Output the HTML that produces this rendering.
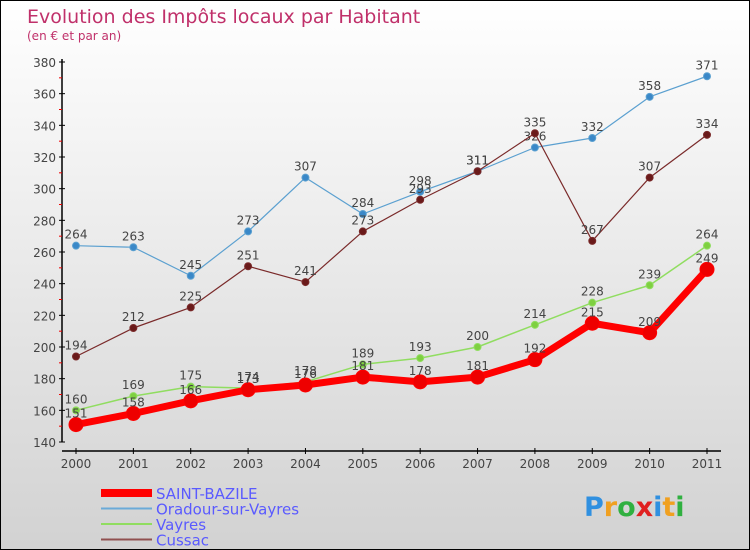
<!DOCTYPE html>
<html><head><meta charset="utf-8"><style>
body{margin:0}
#c{width:750px;height:550px;position:relative;box-sizing:border-box;border:1px solid #000;background:linear-gradient(#ffffff,#d2d2d2);font-family:"DejaVu Sans","Liberation Sans",sans-serif;overflow:hidden}
</style></head><body>
<div id="c">
<svg id="s" width="750" height="550" style="position:absolute;left:0;top:0"></svg>
</div>
<script>
const years=["2000","2001","2002","2003","2004","2005","2006","2007","2008","2009","2010","2011"];
const yTicks=[140,160,180,200,220,240,260,280,300,320,340,360,380];
const saint=[151,158,166,173,176,181,178,181,192,215,209,249];
const oradour=[264,263,245,273,307,284,298,311,326,332,358,371];
const vayres=[160,169,175,174,178,189,193,200,214,228,239,264];
const cussac=[194,212,225,251,241,273,293,311,335,267,307,334];
const svg=document.getElementById('s');const NS='http://www.w3.org/2000/svg';
function X(i){return 75+i*(706-75)/11}
function Y(v){return 441-(v-140)*(380/240)}
function mk(t,a,p){const e=document.createElementNS(NS,t);for(const k in a)e.setAttribute(k,a[k]);(p||svg).appendChild(e);return e}
function tx(x,y,s,o){const e=mk('text',Object.assign({x:x,y:y},o));e.textContent=s;return e}
let t=tx(26,22,'Evolution des Impôts locaux par Habitant',{fill:'#c0306a','font-size':19});
t=tx(26,39,'(en € et par an)',{fill:'#c0306a','font-size':12});
let ax=mk('line',{x1:61,y1:58,x2:61,y2:441,stroke:'#000','stroke-width':1.5});
yTicks.forEach((v,i)=>{mk('line',{x1:58,x2:64,y1:Y(v),y2:Y(v),stroke:'#000'});if(i<yTicks.length-1)mk('line',{x1:58,x2:61,y1:Y(v+10),y2:Y(v+10),stroke:'#e00'});
const l=tx(55,Y(v)+5,v,{'text-anchor':'end','font-size':12,fill:'#444'});});
ax=mk('line',{x1:61,y1:450,x2:720,y2:450,stroke:'#000','stroke-width':1.5});
years.forEach((y,i)=>{mk('line',{x1:X(i),x2:X(i),y1:447,y2:453,stroke:'#000'});const l=tx(X(i),467,y,{'text-anchor':'middle','font-size':12,fill:'#444'});});
function series(name,d,col,w,r,dot){const g=mk('g',{});
const pl=mk('polyline',{points:d.map((v,i)=>X(i)+','+Y(v)).join(' '),fill:'none',stroke:col,'stroke-width':w,'stroke-linejoin':'round'},g);
d.forEach((v,i)=>{const c=mk('circle',{cx:X(i),cy:Y(v),r:r,fill:dot,stroke:col,'stroke-width':1},g);
const l=tx(X(i),Y(v)-7,v,{'text-anchor':'middle','font-size':12,fill:'#444'},g);});}
series('oradour',oradour,'#5ba0d0',1.2,3.5,'#3a88c8');
series('cussac',cussac,'#7a2a2a',1.2,3.5,'#6a1a1a');
series('vayres',vayres,'#90dd60',1.5,3.5,'#7ed040');
series('saint-bazile',saint,'#ff0000',7,7,'#ee0000');
const leg=[['SAINT-BAZILE','#ff0000',8],['Oradour-sur-Vayres','#6aaad8',2],['Vayres','#90dd60',2],['Cussac','#905050',2]];
leg.forEach((e,i)=>{const y=492+i*15.5;const g=mk('g',{});
mk('line',{x1:100,x2:151,y1:y,y2:y,stroke:e[1],'stroke-width':e[2]},g);tx(155,y+6,e[0],{'font-size':15,fill:'#5a5aff'},g);});
const p=tx(583,515,'',{'font-size':27,'font-weight':'bold'});
[['P','#3090e0'],['r','#f0a020'],['o','#30b040'],['x','#e02020'],['i','#3090e0'],['t','#f0a020'],['i','#30b040']].forEach(a=>{const s=document.createElementNS(NS,'tspan');s.setAttribute('fill',a[1]);s.textContent=a[0];p.appendChild(s);});
</script>
</body></html>
